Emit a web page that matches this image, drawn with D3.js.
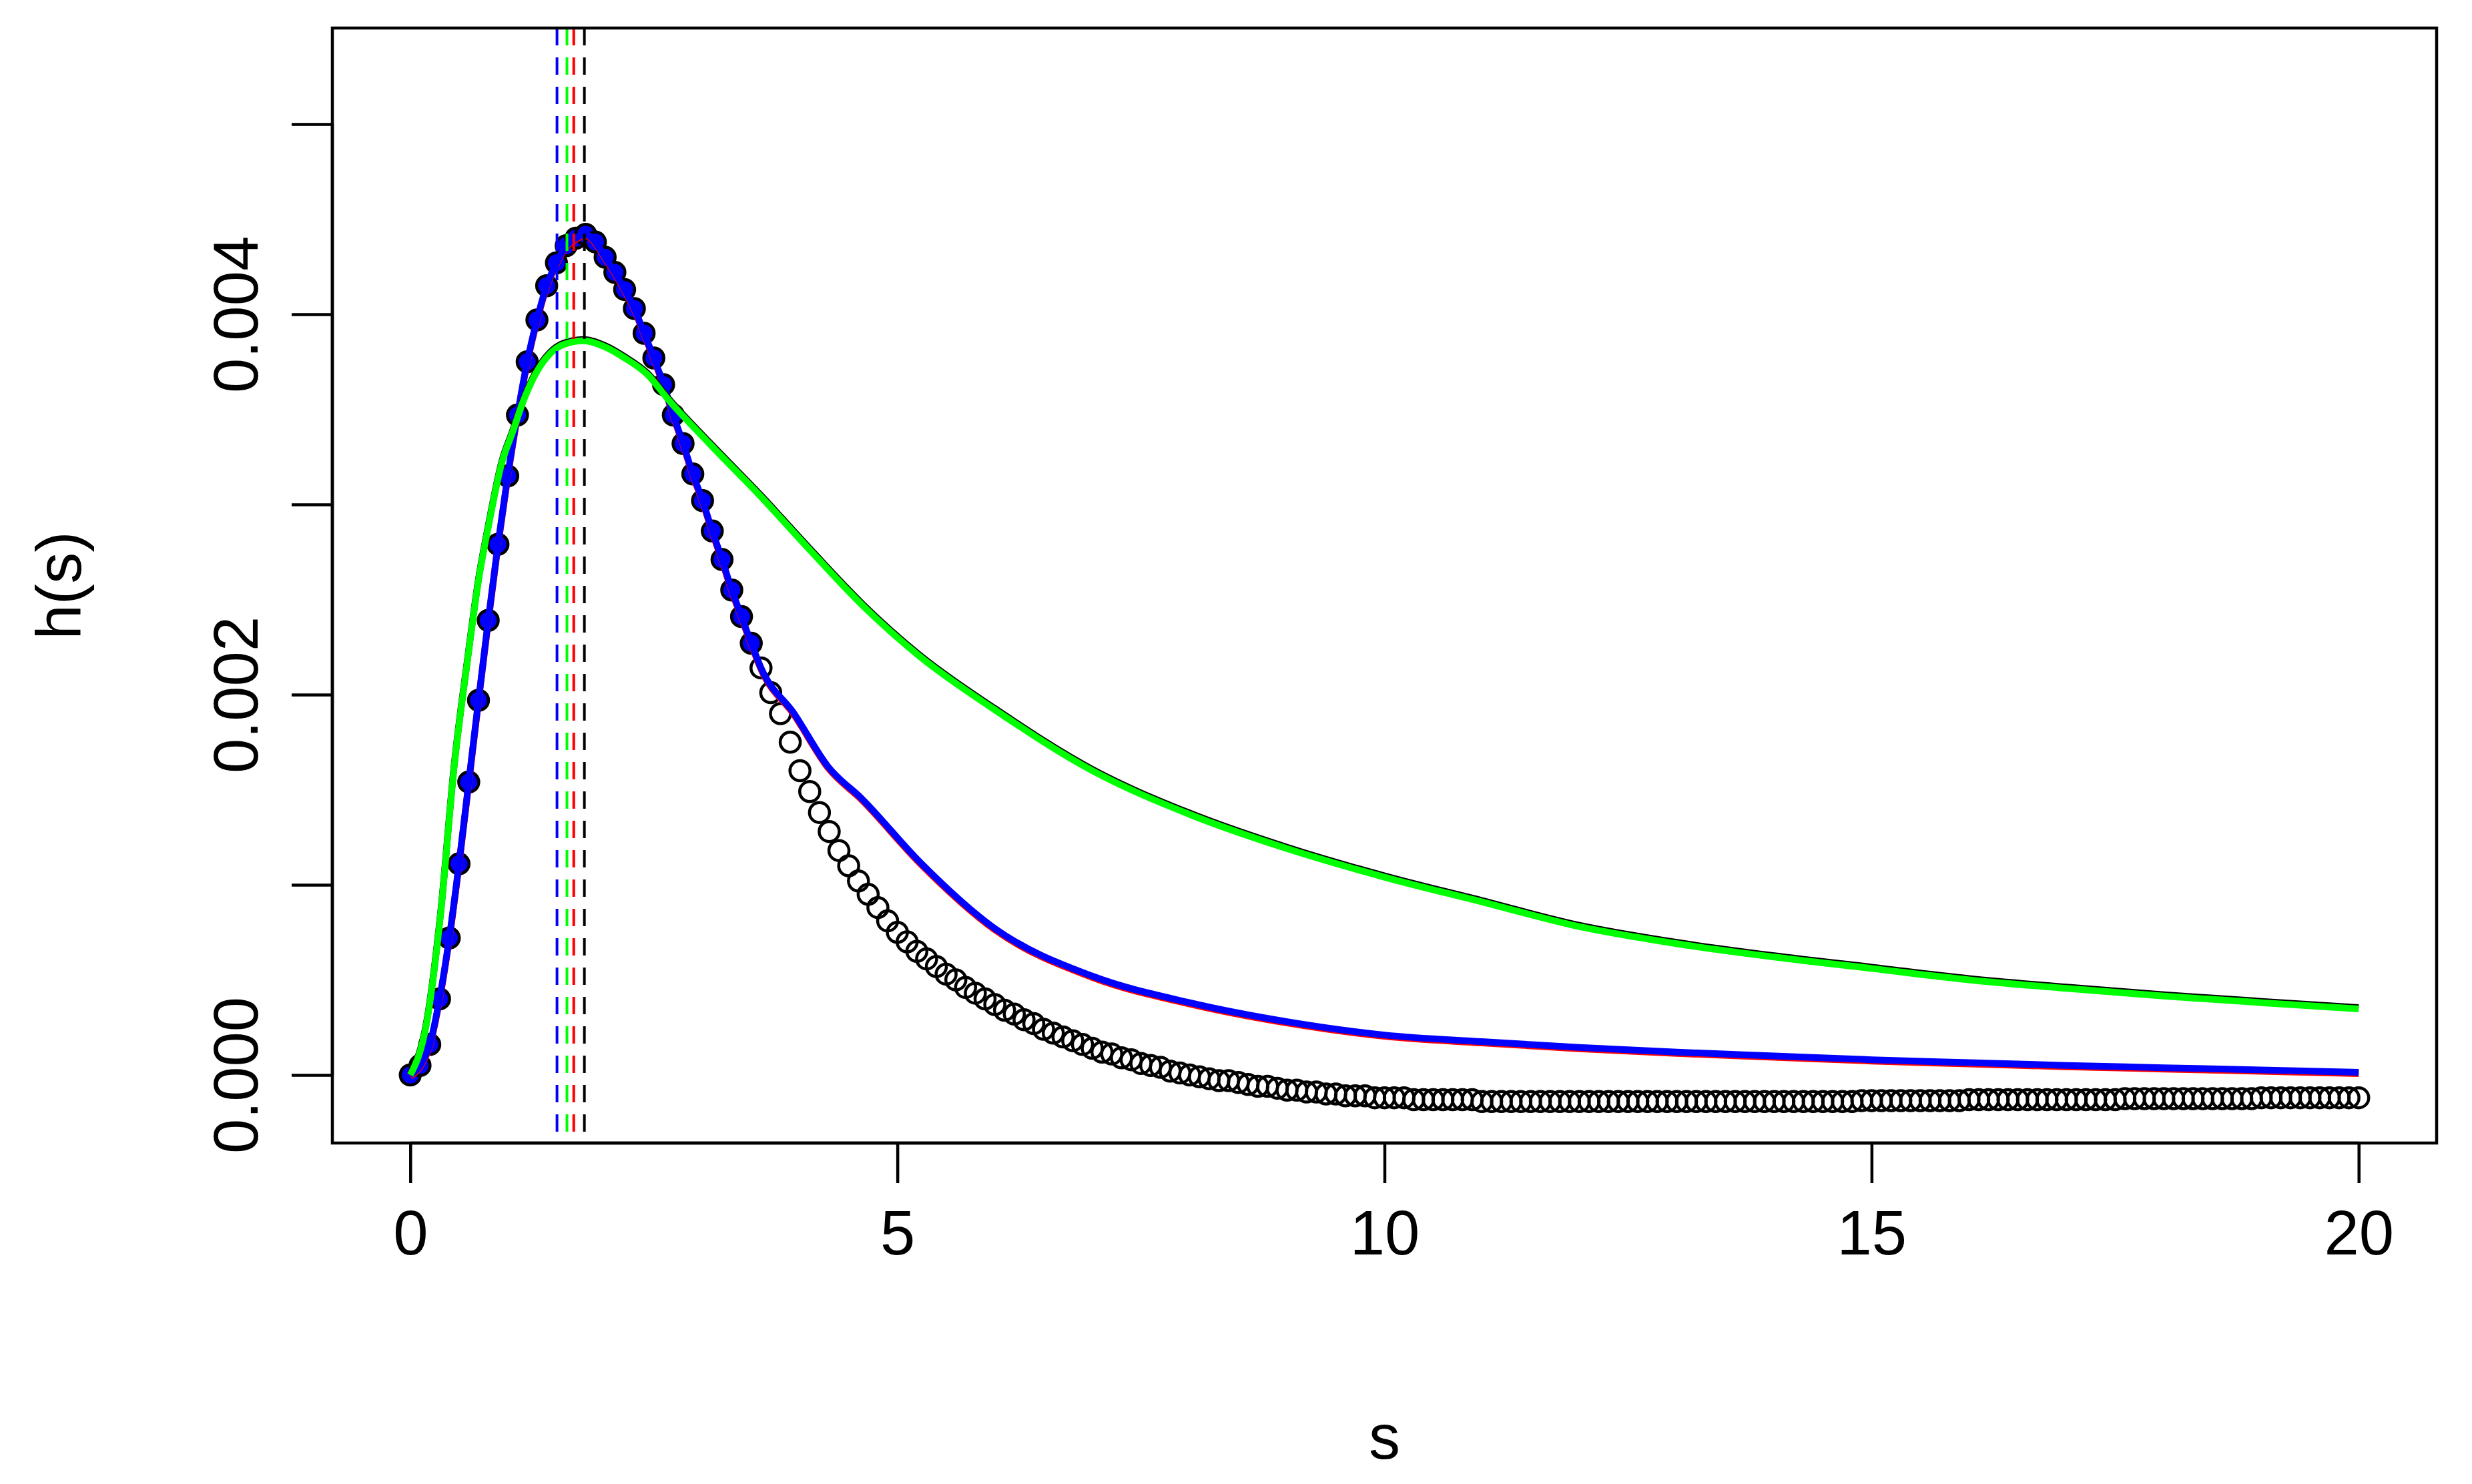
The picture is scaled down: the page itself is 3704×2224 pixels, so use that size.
<!DOCTYPE html>
<html><head><meta charset="utf-8">
<script src="https://cdn.jsdelivr.net/npm/d3@7"></script>
<style>body{margin:0;background:#fff}svg{display:block}</style>
</head><body>
<script>
// values in units of 1e-5
const circleStep = 0.1;
const circleVals = [
0,5,16,40,72,111,154,197,239,279,
315,347,375,397,415,427,436,440,442,438,
430,422,413,403,390,377,363,347,332,316,
302,286,271,255,241,227,214,201,190,175,
160,149,138,128,118,110,102,95,88,81,
75,70,65,61,57,53,50,46,43,40,
37,34,32,29,27,24,22,20,18,16,
14,12,11,9,8,6,5,4,2,1,
0,-1,-2,-3,-3,-4,-5,-6,-6,-7,
-8,-8,-9,-9,-10,-10,-11,-11,-11,-12,
-12,-12,-12,-13,-13,-13,-13,-13,-13,-13,
-14,-14,-14,-14,-14,-14,-14,-14,-14,-14,
-14,-14,-14,-14,-14,-14,-14,-14,-14,-14,
-14,-14,-14,-14,-14,-14,-14,-14,-14,-14,
-14,-14,-14,-14,-14,-14,-14,-14,-14,-13.5,
-13.5,-13.5,-13.5,-13.5,-13.5,-13.5,-13.5,-13.5,-13.5,-13.5,
-13,-13,-13,-13,-13,-13,-13,-13,-13,-13,
-13,-13,-13,-13,-13,-13,-12.5,-12.5,-12.5,-12.5,
-12.5,-12.5,-12.5,-12.5,-12.5,-12.5,-12.5,-12.5,-12.5,-12.5,
-12,-12,-12,-12,-12,-12,-12,-12,-12,-12,
-12];
const filledUpTo = 3.5;
const blueTailS = [3.94,4.29,4.64,5.23,6,7,8,9,10,11,12,13,14,15,16,17,18,19,20];
const blueTailH = [190,162,145,112,77,52,38,28,21,17.5,14.5,12,10,8,6.5,5,3.8,2.6,1.4];
const greenS = [0,0.17,0.31,0.45,0.59,0.7,0.8,0.94,1.05,1.15,1.29,1.43,1.57,1.78,1.99,2.2,2.44,2.65,3.07,3.6,4.12,4.64,5.23,6,7,8,9,10,11,12,13,14,15,16,17,18,19,20];
const greenH = [0,28,84,162,219,260,288,322,338,353,369,379,384,386,383,377,368,355,332,304,275,247,220,192,160,137,119,104,91,78,69,62,56,50,45.5,41.5,38,34.7];
const vlines = [{s:1.506,c:"#0000ff"},{s:1.608,c:"#00ff00"},{s:1.678,c:"#ff0000"},{s:1.787,c:"#000000"}];
const xTicks = [0,5,10,15,20];
const yTicks = [0,0.001,0.002,0.003,0.004,0.005];
const yLabels = ["0.000","","0.002","","0.004",""];

const W=3704,H=2224, L=498,R=3651,T=42,B=1713;
const svg=d3.select("body").append("svg").attr("width",W).attr("height",H);
const x=d3.scaleLinear().domain([-0.8,20.8]).range([L,R]);
const y=d3.scaleLinear().domain([-0.000358,0.005505]).range([B,T]);
const E=1e-5;
const circles=circleVals.map((v,i)=>({s:+(i*circleStep).toFixed(1),h:v*E}));
const blue=circles.filter(d=>d.s<=3.6).concat(blueTailS.map((s,i)=>({s,h:blueTailH[i]*E})));
const green=greenS.map((s,i)=>({s,h:greenH[i]*E}));
const font="Liberation Sans, Arial, sans-serif";
const g=svg.append("g");
const clip=svg.append("clipPath").attr("id","c").append("rect").attr("x",L).attr("y",T).attr("width",R-L).attr("height",B-T);
const pg=g.append("g").attr("clip-path","url(#c)");
// circles
pg.selectAll("ellipse.o").data(circles).join("circle")
 .attr("cx",d=>x(d.s)).attr("cy",d=>y(d.h)).attr("r",15)
 .attr("fill",d=>d.s<=filledUpTo?"#0000ff":"none").attr("stroke","#000").attr("stroke-width",4.5);
const line=d3.line().x(d=>x(d.s)).y(d=>y(d.h)).curve(d3.curveMonotoneX);
pg.append("path").attr("d",line(blue)).attr("fill","none").attr("stroke","#ff0000").attr("stroke-width",10).attr("transform","translate(0,2)");
pg.append("path").attr("d",line(blue)).attr("fill","none").attr("stroke","#0000ff").attr("stroke-width",10);
pg.append("path").attr("d",line(green)).attr("fill","none").attr("stroke","#000").attr("stroke-width",10).attr("transform","translate(0,-2)");
pg.append("path").attr("d",line(green)).attr("fill","none").attr("stroke","#00ff00").attr("stroke-width",10);
pg.selectAll("line.v").data(vlines).join("line")
 .attr("x1",d=>x(d.s)).attr("x2",d=>x(d.s)).attr("y1",T).attr("y2",B)
 .attr("stroke",d=>d.c).attr("stroke-width",4).attr("stroke-dasharray","26,18");
// box
g.append("rect").attr("x",L).attr("y",T).attr("width",R-L).attr("height",B-T).attr("fill","none").attr("stroke","#000").attr("stroke-width",4.5);
// axes
const xa=d3.axisBottom(x).tickValues(xTicks).tickSize(60).tickPadding(40).tickFormat(d3.format("d"));
const xg=g.append("g").attr("transform",`translate(0,${B})`).call(xa);
xg.select(".domain").attr("d",`M${x(0)},0H${x(20)}`).attr("stroke-width",4.5);
xg.selectAll(".tick line").attr("stroke-width",4.5);
xg.selectAll("text").attr("font-family",font).attr("font-size",94).attr("fill","#000");
const ya=d3.axisLeft(y).tickValues(yTicks).tickSize(61).tickFormat((d,i)=>yLabels[i]);
const yg=g.append("g").attr("transform",`translate(${L},0)`).call(ya);
yg.select(".domain").attr("d",`M0,${y(0)}V${y(0.005)}`).attr("stroke-width",4.5);
yg.selectAll(".tick line").attr("stroke-width",4.5);
yg.selectAll("text").attr("font-family",font).attr("font-size",94).attr("fill","#000")
 .attr("text-anchor","middle").attr("dy",0).attr("x",0)
 .attr("transform",`translate(-145,0) rotate(-90)`).attr("dominant-baseline","central");
g.append("text").attr("x",x(10)).attr("y",2153).attr("text-anchor","middle").attr("dominant-baseline","central")
 .attr("font-family",font).attr("font-size",94).text("s");
g.append("text").attr("transform",`translate(88,${(T+B)/2}) rotate(-90)`).attr("text-anchor","middle").attr("dominant-baseline","central")
 .attr("font-family",font).attr("font-size",94).text("h(s)");
</script>
</body></html>
